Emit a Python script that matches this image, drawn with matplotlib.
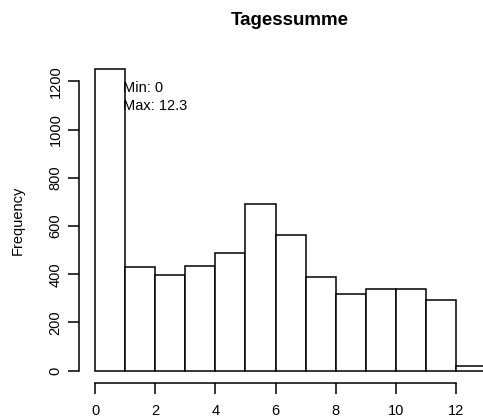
import matplotlib
matplotlib.use("Agg")
import matplotlib.pyplot as plt
import numpy as np

# --- Histogram data ---
bin_edges = [0, 1, 2, 3, 4, 5, 6, 7, 8, 9, 10, 11, 12, 13]
counts = [1251, 428, 396, 433, 487, 690, 561, 389, 318, 338, 338, 293, 21]
x_ticks = [0, 2, 4, 6, 8, 10, 12]
y_ticks = [0, 200, 400, 600, 800, 1000, 1200]
title = "Tagessumme"
y_label = "Frequency"
note = "Min: 0\nMax: 12.3"

plt.rcParams["font.family"] = ["Liberation Sans", "DejaVu Sans"]

fig = plt.figure(figsize=(4.83, 4.19), dpi=100)
# plot region runs past the right edge, as in the cropped original
ax = fig.add_axes([0.1644, 0.0864, 0.8743, 0.7778])

lefts = np.array(bin_edges[:-1])
widths = np.diff(bin_edges)
ax.bar(lefts, counts, width=widths, align="edge",
       facecolor="white", edgecolor="black", linewidth=1.1)

# R-style extents: 4% padding around the data range
xr = bin_edges[-1] - bin_edges[0]
ax.set_xlim(bin_edges[0] - 0.04 * xr, bin_edges[-1] + 0.04 * xr)
yr = max(counts)
ax.set_ylim(-0.04 * yr, yr * 1.04)

for side in ["top", "right"]:
    ax.spines[side].set_visible(False)
ax.spines["left"].set_bounds(y_ticks[0], y_ticks[-1])
ax.spines["bottom"].set_bounds(x_ticks[0], x_ticks[-1])
for side in ["left", "bottom"]:
    ax.spines[side].set_linewidth(1.1)

ax.set_xticks(x_ticks)
ax.set_yticks(y_ticks)
ax.tick_params(axis="both", length=8, width=1.1, labelsize=10.5, colors="black")
ax.tick_params(axis="x", pad=7)
ax.tick_params(axis="y", pad=4, labelrotation=90)
for lbl in ax.get_yticklabels():
    lbl.set_verticalalignment("center")

ax.set_ylabel(y_label, fontsize=10.5, labelpad=17)
fig.text(0.6, 0.952, title, ha="center", va="center",
         fontsize=13.5, fontweight="bold")

ax.text(0.93, 1136, note, ha="left", va="center", fontsize=10.5,
        linespacing=1.4, zorder=5)

fig.savefig("out.png", dpi=100)
